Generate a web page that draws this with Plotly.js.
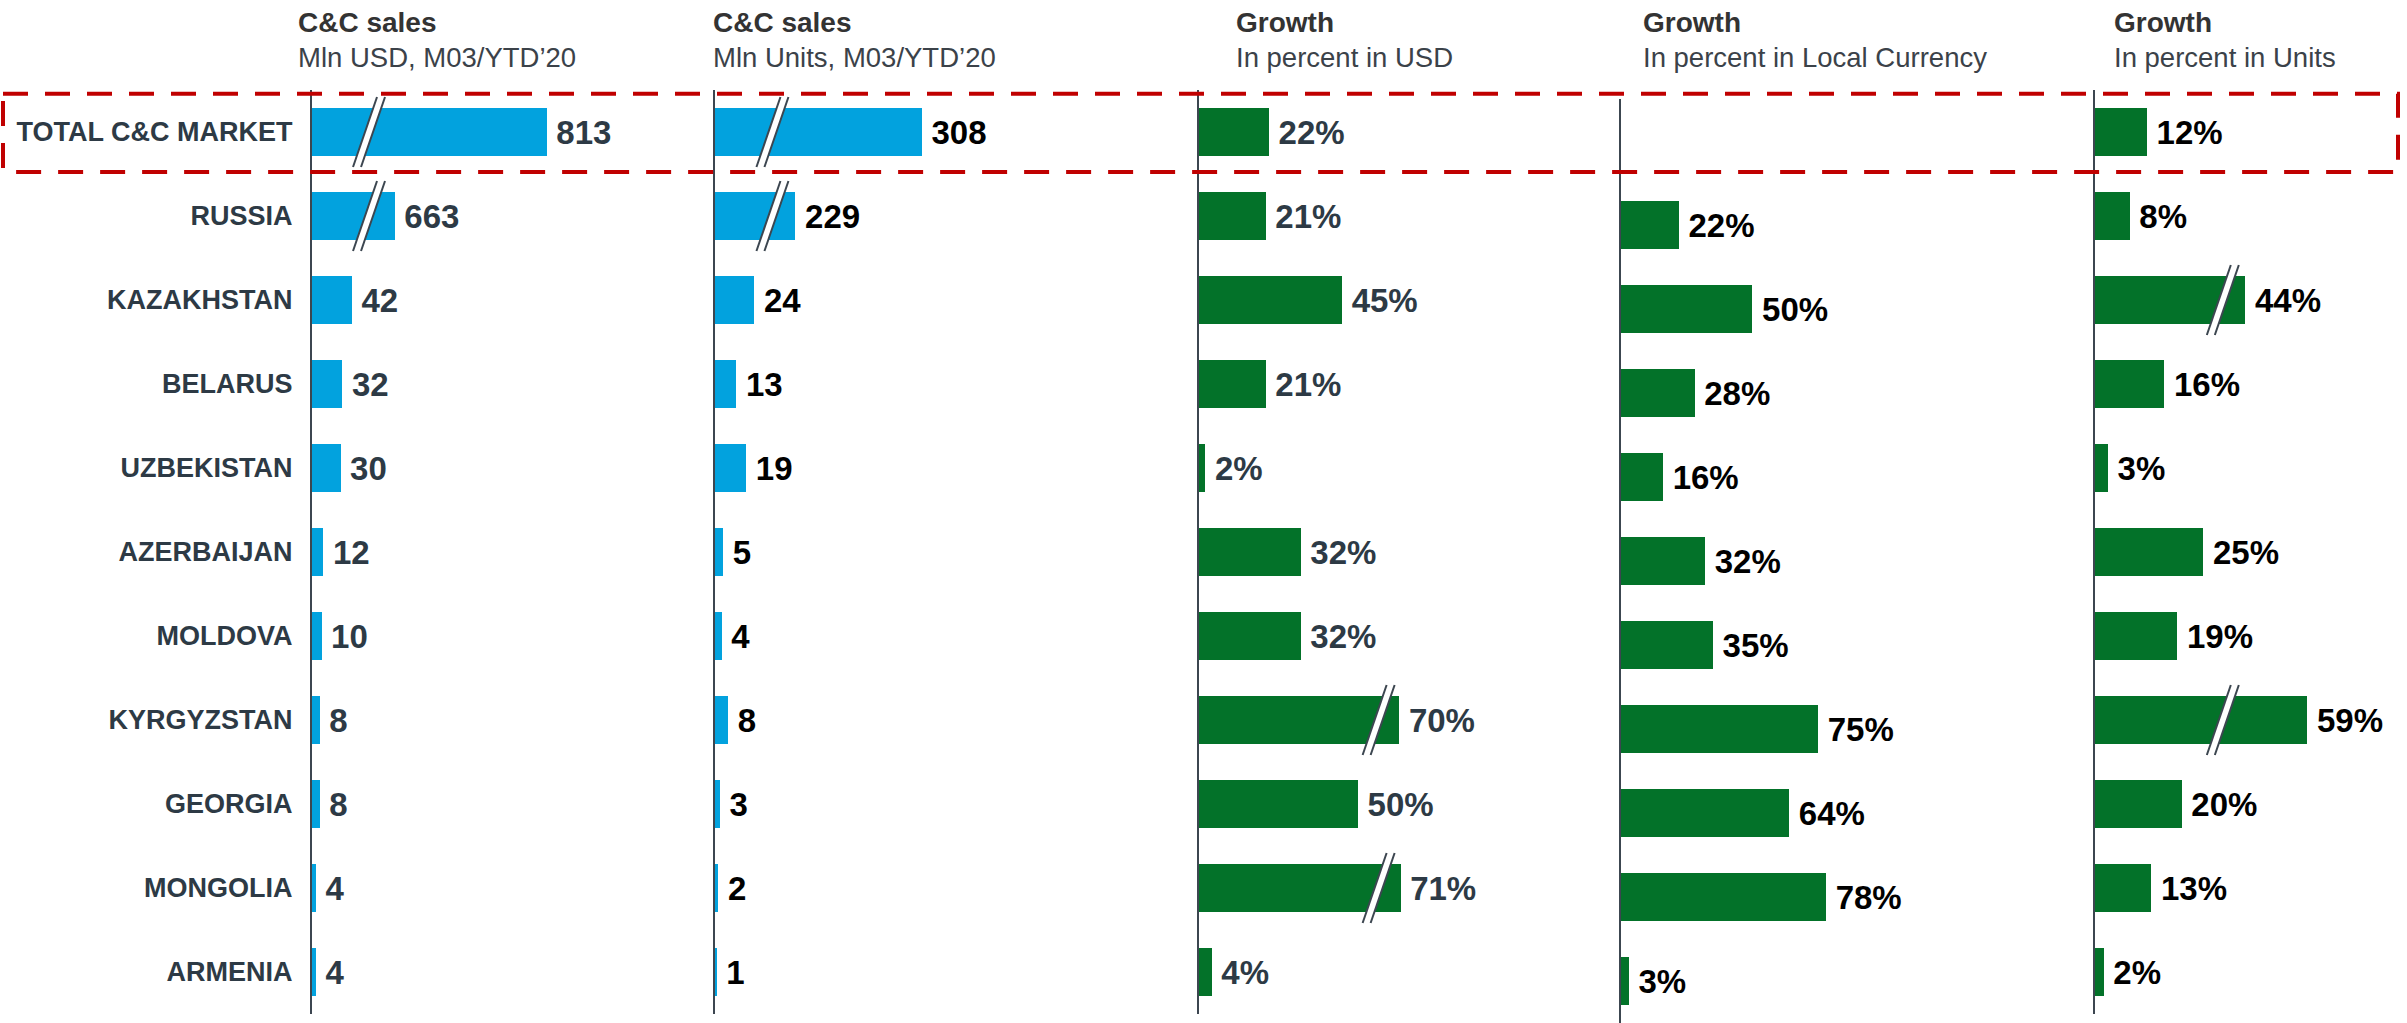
<!DOCTYPE html>
<html>
<head>
<meta charset="utf-8">
<script src="https://cdn.plot.ly/plotly-3.0.1.min.js"></script>
<style>html,body{margin:0;padding:0;background:#fff;}#chart{width:2407px;height:1023px;}</style>
</head>
<body>
<div id="chart"></div>
<script>
// ---------------- DATA ----------------
const countries = ['TOTAL C&C MARKET','RUSSIA','KAZAKHSTAN','BELARUS','UZBEKISTAN','AZERBAIJAN','MOLDOVA','KYRGYZSTAN','GEORGIA','MONGOLIA','ARMENIA'];
const salesUsd    = [813, 663, 42, 32, 30, 12, 10, 8, 8, 4, 4];       // Mln USD
const salesUnits  = [308, 229, 24, 13, 19, 5, 4, 8, 3, 2, 1];         // Mln Units
const growthUsd   = [22, 21, 45, 21, 2, 32, 32, 70, 50, 71, 4];       // %
const growthLocal = [null, 22, 50, 28, 16, 32, 35, 75, 64, 78, 3];    // %
const growthUnits = [12, 8, 44, 16, 3, 25, 19, 59, 20, 13, 2];        // %

// drawn length of bars that are shown with an axis break (axis units)
const salesUsdDrawn    = [247, 87, null, null, null, null, null, null, null, null, null];
const salesUnitsDrawn  = [126, 49, null, null, null, null, null, null, null, null, null];
const growthUsdDrawn   = [null, null, null, null, null, null, null, 63, null, 63.4, null];
const growthUnitsDrawn = [null, null, 34.7, null, null, null, null, 49, null, null, null];

// break marks: [axis, row index, position on axis]
const breakMarks = [['x',0,60],['x',1,60],['x2',0,35],['x2',1,35],['x3',7,56.5],['x3',9,56.5],['x5',2,29.5],['x5',7,29.5]];

const panelTitles = ['C&C sales','C&C sales','Growth','Growth','Growth'];
const panelSubtitles = ['Mln USD, M03/YTD’20','Mln Units, M03/YTD’20','In percent in USD','In percent in Local Currency','In percent in Units'];

// ---------------- STYLE ----------------
const W = 2407, H = 1023;
const FONT = 'Liberation Sans, Arial, sans-serif';
const BLUE = '#02a2de', GREEN = '#037229', SLATE = '#2d3a45', AXIS = '#3c4650';
const px = v => v / W;

const panels = [
  {x:'x',  y:'y',  d0:312,  d1:712,  range:[0,421], vals:salesUsd,    drawn:salesUsdDrawn,    color:BLUE,  txt:SLATE, fmt:v=>String(v), titleX:296},
  {x:'x2', y:'y2', d0:715,  d1:1150, range:[0,265], vals:salesUnits,  drawn:salesUnitsDrawn,  color:BLUE,  txt:'#000', fmt:v=>String(v), titleX:711},
  {x:'x3', y:'y3', d0:1199, d1:1590, range:[0,123], vals:growthUsd,   drawn:growthUsdDrawn,   color:GREEN, txt:SLATE, fmt:v=>v+'%', titleX:1234},
  {x:'x4', y:'y4', d0:1621, d1:2060, range:[0,167], vals:growthLocal, drawn:null,             color:GREEN, txt:'#000', fmt:v=>v+'%', titleX:1641},
  {x:'x5', y:'y5', d0:2095, d1:2407, range:[0,72],  vals:growthUnits, drawn:growthUnitsDrawn, color:GREEN, txt:'#000', fmt:v=>v+'%', titleX:2112}
];

const traces = panels.map(p => ({
  type:'bar', orientation:'h',
  y: countries,
  x: p.vals.map((v,i) => (p.drawn && p.drawn[i] != null) ? p.drawn[i] : v),
  text: p.vals.map(v => v == null ? '' : '\u2009' + p.fmt(v)),
  textposition:'outside', constraintext:'none', cliponaxis:false,
  textfont:{family:FONT, size:33, color:p.txt, weight:'bold'},
  marker:{color:p.color, line:{width:0}},
  width:0.56,
  xaxis:p.x, yaxis:p.y, hoverinfo:'skip'
}));

const layout = {
  width:W, height:H,
  margin:{l:0,r:0,t:0,b:0},
  paper_bgcolor:'#fff', plot_bgcolor:'rgba(0,0,0,0)',
  showlegend:false, bargap:0,
  font:{family:FONT},
  shapes:[], annotations:[]
};

const yDomMain = [9/H, 1 - 90/H];
const yDomShift = [0, 1 - 99/H];

panels.forEach((p, k) => {
  const xk = 'xaxis' + (k === 0 ? '' : k+1);
  const yk = 'yaxis' + (k === 0 ? '' : k+1);
  layout[xk] = {domain:[px(p.d0), px(p.d1)], range:p.range, visible:false, anchor:p.y, fixedrange:true};
  layout[yk] = {
    domain: k === 3 ? yDomShift : yDomMain,
    anchor:p.x, type:'category', categoryorder:'array', categoryarray:countries,
    range:[10.5,-0.5], autorange:false,
    showline:true, linecolor:AXIS, linewidth:2,
    showgrid:false, zeroline:false, ticks:'',
    showticklabels: k === 0, ticklabelstandoff:12,
    tickfont:{family:FONT, size:27, color:SLATE, weight:'bold'},
    fixedrange:true
  };
  layout.annotations.push({
    xref:'paper', yref:'paper', x:px(p.titleX), y:1 - 23/H, xanchor:'left', yanchor:'middle',
    text:'<b>'+panelTitles[k]+'</b>', showarrow:false, font:{family:FONT, size:28, color:'#333'}
  });
  layout.annotations.push({
    xref:'paper', yref:'paper', x:px(p.titleX), y:1 - 58/H, xanchor:'left', yanchor:'middle',
    text:panelSubtitles[k], showarrow:false, font:{family:FONT, size:27.5, color:'#3b4249'}
  });
});

// break marks
const s = 12, g = 8, h = 35;
breakMarks.forEach(([ax, row, at]) => {
  const yref = 'y' + ax.slice(1);
  const base = {xref:ax, yref:yref, xsizemode:'pixel', ysizemode:'pixel', xanchor:at, yanchor:row, layer:'above'};
  layout.shapes.push(Object.assign({}, base, {
    type:'path', path:`M ${-s-g/2},${-h} L ${-s+g/2},${-h} L ${s+g/2},${h} L ${s-g/2},${h} Z`,
    fillcolor:'#fff', line:{width:0}
  }));
  layout.shapes.push(Object.assign({}, base, {type:'line', x0:-s-g/2, x1:s-g/2, y0:-h, y1:h, line:{color:AXIS, width:2}}));
  layout.shapes.push(Object.assign({}, base, {type:'line', x0:-s+g/2, x1:s+g/2, y0:-h, y1:h, line:{color:AXIS, width:2}}));
});

// dashed highlight box around the total row
layout.shapes.push({
  type:'rect', xref:'paper', yref:'y', x0:px(3), x1:px(2398), y0:-0.455, y1:0.475,
  line:{color:'#c00000', width:4, dash:'25px,17px'}, fillcolor:'rgba(0,0,0,0)', layer:'above'
});

Plotly.newPlot('chart', traces, layout, {staticPlot:true, displayModeBar:false});
</script>
</body>
</html>
